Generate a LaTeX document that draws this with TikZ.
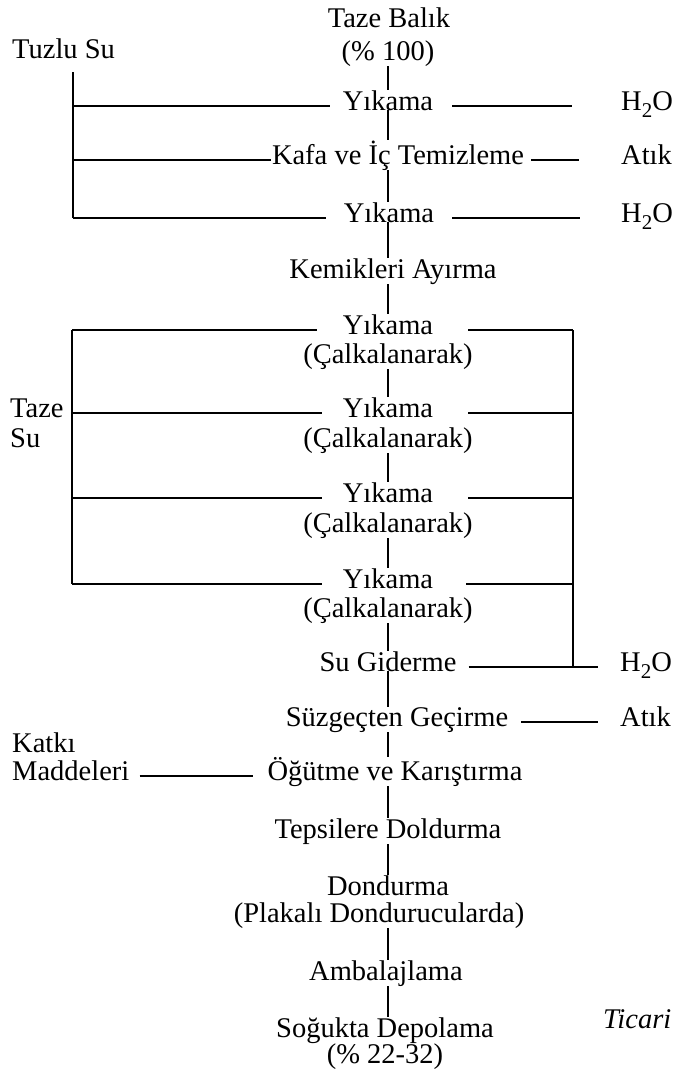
\documentclass[tikz,border=0pt]{standalone}
\usepackage{fontspec}
\setmainfont{Liberation Serif}
\begin{document}
\begin{tikzpicture}[x=1pt,y=-1pt,
  lbl/.style={anchor=base,inner sep=0pt,font=\fontsize{28.5}{30}\selectfont},
  lbll/.style={lbl,anchor=base west},
  ln/.style={line width=1.7pt},
  vln/.style={line width=1.3pt}]
\useasboundingbox (0,0) rectangle (678,1069);
\newcommand{\hto}{H\raisebox{-7pt}{\fontsize{21}{21}\selectfont 2}O}
\coordinate (m) at (388,0);
% central column
\node[lbl] (tb1) at (389,27) {Taze Balık};
\node[lbl] (tb2) at (388,60) {(\% 100)};
\node[lbl] (y1) at (388,110) {Yıkama};
\node[lbl] (kafa) at (398,164) {Kafa ve İç Temizleme};
\node[lbl] (y3) at (389,222) {Yıkama};
\node[lbl] (kem) at (393,278) {Kemikleri Ayırma};
\node[lbl] (c1a) at (388,334) {Yıkama};
\node[lbl] (c1b) at (388,363) {(Çalkalanarak)};
\node[lbl] (c2a) at (388,417) {Yıkama};
\node[lbl] (c2b) at (388,447) {(Çalkalanarak)};
\node[lbl] (c3a) at (388,502) {Yıkama};
\node[lbl] (c3b) at (388,532) {(Çalkalanarak)};
\node[lbl] (c4a) at (388,588) {Yıkama};
\node[lbl] (c4b) at (388,617) {(Çalkalanarak)};
\node[lbl] (sug) at (388,671) {Su Giderme};
\node[lbl] (suz) at (397,726) {Süzgeçten Geçirme};
\node[lbl] (ogu) at (395,780) {Öğütme ve Karıştırma};
\node[lbl] (tep) at (388,838) {Tepsilere Doldurma};
\node[lbl] (don) at (388,895) {Dondurma};
\node[lbl] (pla) at (379,922) {(Plakalı Dondurucularda)};
\node[lbl] (amb) at (386,980) {Ambalajlama};
\node[lbl] (sog) at (385,1037) {Soğukta Depolama};
\node[lbl] (sogp) at (385,1063) {(\% 22-32)};
% side labels
\node[lbll] (tuz) at (12,58) {Tuzlu Su};
\node[lbll] (tz1) at (10,417) {Taze};
\node[lbll] (tz2) at (10,447) {Su};
\node[lbll] (kat1) at (12,752) {Katkı};
\node[lbll] (kat2) at (12,780) {Maddeleri};
\node[lbll] (h1) at (621,110) {\hto};
\node[lbll] (a1) at (621,164) {Atık};
\node[lbll] (h2) at (621,222) {\hto};
\node[lbll] (h3) at (620,671) {\hto};
\node[lbll] (a2) at (620,726) {Atık};
\node[lbll] (tic) at (603,1028) {\itshape Ticari};
% bus coordinates
\coordinate (ta) at (73,72);
\coordinate (t1) at (73,106);
\coordinate (t2) at (73,160);
\coordinate (t3) at (73,218);
\coordinate (s1) at (72,330);
\coordinate (s2) at (72,413);
\coordinate (s3) at (72,498);
\coordinate (s4) at (72,584);
\coordinate (r1) at (573,330);
\coordinate (r2) at (573,413);
\coordinate (r3) at (573,498);
\coordinate (r4) at (573,584);
\coordinate (r5) at (573,667);
% main vertical segments
\foreach \a/\b in {tb2/y1,y1/kafa,kafa/y3,y3/kem,kem/c1a,c1b/c2a,c2b/c3a,c3b/c4a,c4b/sug,sug/suz,suz/ogu,ogu/tep,tep/don,pla/amb,amb/sog}
  \draw[vln] (\a.south -| m) -- (\b.north -| m);
% brine bus
\draw[ln] (ta) -- (t3);
\draw[ln] (t1) -- ([xshift=-13pt,yshift=4pt]y1.base west);
\draw[ln] (t2) -- ([xshift=-1pt,yshift=4pt]kafa.base west);
\draw[ln] (t3) -- ([xshift=-18pt,yshift=4pt]y3.base west);
\draw[ln] ([xshift=19pt,yshift=4pt]y1.base east) -- ([xshift=-49pt,yshift=4pt]h1.base west);
\draw[ln] ([xshift=7pt,yshift=4pt]kafa.base east) -- ([xshift=-42pt,yshift=4pt]a1.base west);
\draw[ln] ([xshift=18pt,yshift=4pt]y3.base east) -- ([xshift=-41pt,yshift=4pt]h2.base west);
% fresh water bus
\draw[ln] (s1) -- (s4);
\draw[ln] (s1) -- ([xshift=-26pt,yshift=4pt]c1a.base west);
\draw[ln] (s2) -- ([xshift=-21pt,yshift=4pt]c2a.base west);
\draw[ln] (s3) -- ([xshift=-21pt,yshift=4pt]c3a.base west);
\draw[ln] (s4) -- ([xshift=-21pt,yshift=4pt]c4a.base west);
% return bus
\draw[ln] (r1) -- (r5);
\draw[ln] ([xshift=35pt,yshift=4pt]c1a.base east) -- (r1);
\draw[ln] ([xshift=35pt,yshift=4pt]c2a.base east) -- (r2);
\draw[ln] ([xshift=35pt,yshift=4pt]c3a.base east) -- (r3);
\draw[ln] ([xshift=33pt,yshift=4pt]c4a.base east) -- (r4);
\draw[ln] ([xshift=12pt,yshift=4pt]sug.base east) -- ([xshift=-22pt,yshift=4pt]h3.base west);
\draw[ln] ([xshift=13pt,yshift=4pt]suz.base east) -- ([xshift=-22pt,yshift=4pt]a2.base west);
% additives
\draw[ln] ([xshift=10pt,yshift=4pt]kat2.base east) -- ([xshift=-14pt,yshift=4pt]ogu.base west);
\end{tikzpicture}
\end{document}
